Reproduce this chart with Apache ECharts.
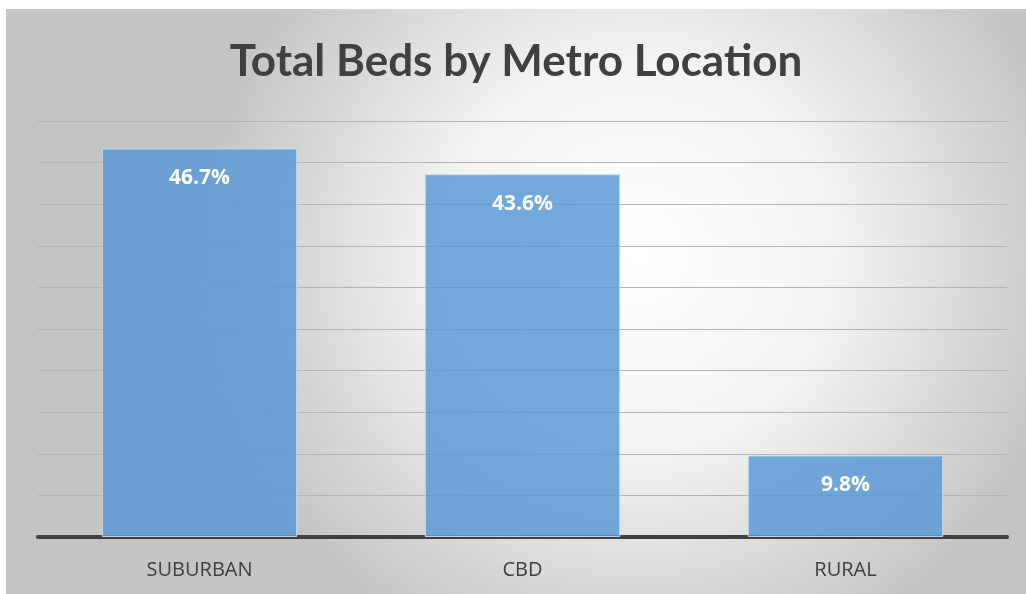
<!DOCTYPE html>
<html>
<head>
<meta charset="utf-8">
<script src="https://cdn.jsdelivr.net/npm/echarts@6/dist/echarts.min.js"></script>
<style>
  html, body { margin: 0; padding: 0; background: #fff; }
  #chart { position: absolute; left: 6px; top: 9px; width: 1020px; height: 585px; }
</style>
</head>
<body>
<div id="chart"></div>
<script>
const categories = ['SUBURBAN', 'CBD', 'RURAL']
const shares = [46.7, 43.6, 9.8]
const yMin = 0
const yMax = 50
const yStep = 5

const chart = echarts.init(document.getElementById('chart'))
chart.setOption({
  backgroundColor: new echarts.graphic.RadialGradient(0.62, 0.42, 0.75, [
    { offset: 0, color: '#ffffff' },
    { offset: 0.45, color: '#f3f3f3' },
    { offset: 1, color: '#c4c4c4' },
  ]),
  title: {
    text: 'Total Beds by Metro Location',
    left: 'center',
    top: 31,
    padding: [0, 0, 0, 10],
    textStyle: {
      fontFamily: 'Lato',
      fontWeight: 'bold',
      fontSize: 44,
      color: '#404040',
    },
  },
  grid: { left: 32, right: 19, top: 112, bottom: 57 },
  xAxis: {
    type: 'category',
    data: categories,
    axisTick: { show: false },
    axisLine: { lineStyle: { color: '#404040', width: 4 } },
    axisLabel: {
      margin: 23,
      fontFamily: 'Open Sans',
      fontSize: 20,
      color: '#404040',
    },
  },
  yAxis: {
    type: 'value',
    min: yMin,
    max: yMax,
    interval: yStep,
    axisLabel: { show: false },
    axisLine: { show: false },
    axisTick: { show: false },
    splitLine: { lineStyle: { color: '#b4b4b4', width: 1 } },
  },
  series: [
    {
      type: 'bar',
      data: shares,
      barCategoryGap: '39.5%',
      itemStyle: {
        color: 'rgba(91,155,213,0.85)',
        borderColor: 'rgba(200,222,242,0.9)',
        borderWidth: 1,
      },
      label: {
        show: true,
        position: 'insideTop',
        distance: 19,
        formatter: (p) => p.value.toFixed(1) + '%',
        fontFamily: 'Open Sans',
        fontWeight: 'bold',
        fontSize: 21,
        color: '#ffffff',
      },
    },
  ],
})
</script>
</body>
</html>
